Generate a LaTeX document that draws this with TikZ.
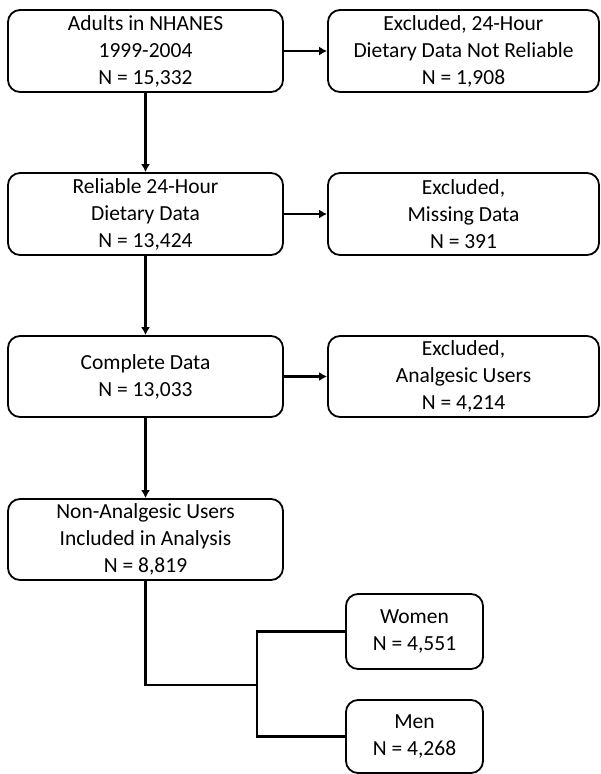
\documentclass[tikz,border=0pt]{standalone}
\usepackage{fontspec}
\setmainfont{Carlito}
\usetikzlibrary{arrows.meta}
\begin{document}
\begin{tikzpicture}[x=1pt,y=-1pt,
	box/.style={draw=black, line width=1.8pt, rounded corners=12pt, align=center, inner sep=0pt, font=\fontsize{21.5}{27}\selectfont},
	link/.style={line width=2.8pt},
	arr/.style={link, -{Latex[length=8pt,width=9pt]}}]
\useasboundingbox (0,0) rectangle (600,774);
\node[box, minimum width=275pt, minimum height=82pt] (adults) at (145.5,51) {Adults in NHANES\\1999-2004\\N = 15,332};
\node[box, minimum width=271pt, minimum height=82pt] (unrel) at (463.5,51) {Excluded, 24-Hour\\Dietary Data Not Reliable\\N = 1,908};
\node[box, minimum width=275pt, minimum height=82pt] (reliable) at (145.5,214) {Reliable 24-Hour\\Dietary Data\\N = 13,424};
\node[box, minimum width=271pt, minimum height=82pt] (missing) at (463.5,214) {Excluded,\\Missing Data\\N = 391};
\node[box, minimum width=275pt, minimum height=81pt] (complete) at (145.5,376.5) {Complete Data\\N = 13,033};
\node[box, minimum width=271pt, minimum height=81pt] (analg) at (463.5,376.5) {Excluded,\\Analgesic Users\\N = 4,214};
\node[box, minimum width=275pt, minimum height=81pt] (incl) at (145.5,539.5) {Non-Analgesic Users\\Included in Analysis\\N = 8,819};
\node[box, minimum width=137pt, minimum height=75pt] (women) at (414.5,631.5) {Women\\N = 4,551};
\node[box, minimum width=137pt, minimum height=73pt] (men) at (414.5,736.5) {Men\\N = 4,268};
\coordinate (fork) at (257,685);
\draw[arr] (adults) -- (unrel);
\draw[arr] (reliable) -- (missing);
\draw[arr] (complete) -- (analg);
\draw[arr] (adults) -- (reliable);
\draw[arr] (reliable) -- (complete);
\draw[arr] (complete) -- (incl);
\draw[link] (incl.south) |- (fork);
\draw[link] (women.west) -| (fork) |- (men.west);
\end{tikzpicture}
\end{document}
